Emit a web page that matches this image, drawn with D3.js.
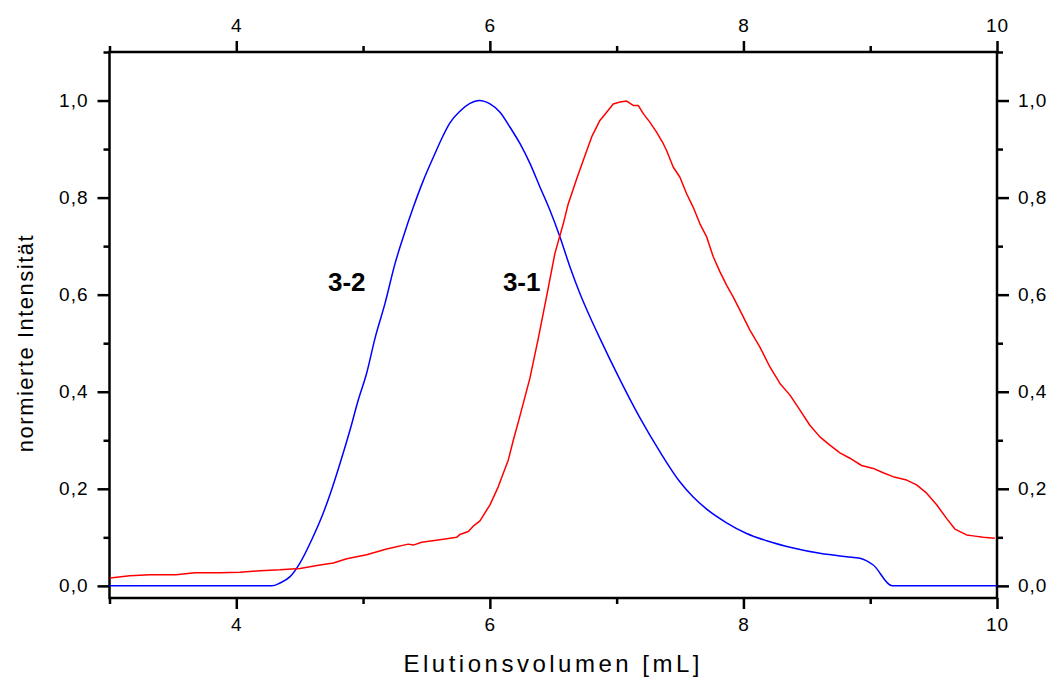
<!DOCTYPE html>
<html>
 <head>
  <meta charset="utf-8" />
  <title>Elutionsvolumen</title>
  <style>
   body, html {
    margin: 0;
    padding: 0;
    background-color: white;
    overflow: hidden;
   }
   svg {
    display: block;
   }
   .axis text {
    font-family: "Liberation Sans", Arial, sans-serif;
    font-size: 19px;
    letter-spacing: 1px;
    fill: #000;
   }
   .axis path, .axis line {
    stroke: #000;
    stroke-width: 2.5;
   }
   .title {
    font-family: "Liberation Sans", Arial, sans-serif;
    fill: #000;
   }
   .curve {
    fill: none;
    stroke-width: 1.5;
    stroke-linejoin: round;
   }
  </style>
  <script src="https://cdnjs.cloudflare.com/ajax/libs/d3/7.9.0/d3.min.js"></script>
 </head>
 <body>
  <svg></svg>
  <script>
   // values (x = Elutionsvolumen in mL, y = normierte Intensitaet)
   const blueX = [3.00, 4.28, 4.345, 4.424, 4.502, 4.595, 4.686, 4.752, 4.818, 4.897, 4.962, 5.028, 5.094, 5.173,
    5.252, 5.317, 5.396, 5.475, 5.554, 5.632, 5.685, 5.764, 5.843, 5.916, 6.001, 6.080, 6.159, 6.238, 6.317,
    6.395, 6.474, 6.553, 6.632, 6.711, 6.790, 6.868, 7.026, 7.184, 7.342, 7.500, 7.604, 7.710, 7.867, 8.025,
    8.183, 8.393, 8.603, 8.814, 8.919, 9.024, 9.173, 10.0];
   const blueY = [0, 0, 0.006, 0.019, 0.047, 0.095, 0.150, 0.198, 0.252, 0.321, 0.383, 0.438, 0.510, 0.582,
    0.664, 0.719, 0.780, 0.835, 0.883, 0.928, 0.954, 0.978, 0.994, 1.000, 0.993, 0.976, 0.945, 0.911, 0.870,
    0.822, 0.774, 0.719, 0.657, 0.602, 0.554, 0.510, 0.425, 0.346, 0.276, 0.214, 0.183, 0.158, 0.130, 0.108,
    0.093, 0.078, 0.067, 0.060, 0.057, 0.043, 0, 0];

   const redX = [3.004, 3.16, 3.319, 3.524, 3.674, 3.871, 4.029, 4.187, 4.345, 4.502, 4.660, 4.765, 4.871,
    5.028, 5.186, 5.356, 5.396, 5.462, 5.606, 5.738, 5.764, 5.830, 5.869, 5.922, 6.001, 6.066, 6.106, 6.145,
    6.185, 6.229, 6.316, 6.382, 6.448, 6.513, 6.579, 6.618, 6.685, 6.737, 6.803, 6.868, 6.921, 6.973, 7.026,
    7.079, 7.131, 7.170, 7.210, 7.263, 7.315, 7.368, 7.394, 7.446, 7.499, 7.552, 7.604, 7.657, 7.710, 7.762,
    7.815, 7.868, 7.920, 7.986, 8.051, 8.130, 8.209, 8.288, 8.367, 8.446, 8.524, 8.603, 8.682, 8.761, 8.840,
    8.932, 9.024, 9.102, 9.181, 9.287, 9.366, 9.445, 9.524, 9.602, 9.668, 9.760, 9.812, 9.891, 9.983];
   const redY = [0.016, 0.021, 0.023, 0.023, 0.027, 0.027, 0.028, 0.031, 0.033, 0.036, 0.043, 0.047, 0.056,
    0.064, 0.076, 0.086, 0.084, 0.090, 0.095, 0.100, 0.106, 0.112, 0.123, 0.134, 0.167, 0.204, 0.232, 0.259,
    0.300, 0.342, 0.428, 0.510, 0.597, 0.685, 0.746, 0.787, 0.839, 0.877, 0.925, 0.959, 0.976, 0.993, 0.997,
    0.999, 0.990, 0.990, 0.973, 0.955, 0.935, 0.911, 0.897, 0.863, 0.842, 0.808, 0.780, 0.746, 0.719, 0.678,
    0.647, 0.619, 0.595, 0.561, 0.527, 0.492, 0.451, 0.417, 0.393, 0.362, 0.331, 0.307, 0.290, 0.274, 0.263,
    0.248, 0.242, 0.233, 0.225, 0.218, 0.208, 0.191, 0.167, 0.139, 0.117, 0.105, 0.103, 0.100, 0.098];

   const xMajor = [4, 6, 8, 10];
   const xMinor = [3, 5, 7, 9];
   const yMajor = [0, 0.2, 0.4, 0.6, 0.8, 1.0];
   const yMinor = [0.1, 0.3, 0.5, 0.7, 0.9, 1.1];

   const labels = [
    {text: "3-2", x: 4.723, y: 0.608},
    {text: "3-1", x: 6.103, y: 0.608}
   ];

   const width = 1051;
   const height = 679;
   const margin = {top: 52, right: 54, bottom: 81, left: 109.5};

   const svg = d3.select("svg")
    .attr("width", width)
    .attr("height", height);

   const x = d3.scaleLinear().domain([3, 10]).range([margin.left, width - margin.right]);
   const y = d3.scaleLinear().domain([-0.025, 1.1]).range([height - margin.bottom, margin.top]);

   const fmt = d => d3.format(".1f")(d).replace(".", ",");

   function addAxis(gen, values, size, label, transform) {
    const g = svg.append("g")
     .attr("class", "axis")
     .attr("transform", transform)
     .call(gen.tickValues(values).tickSize(size).tickSizeOuter(0).tickPadding(label ? 9 : 0)
      .tickFormat(label ? label : ""));
    g.select(".domain").remove();
    return g;
   }

   const bottomT = `translate(0,${y.range()[0]})`;
   const topT = `translate(0,${y.range()[1]})`;
   const leftT = `translate(${x.range()[0]},0)`;
   const rightT = `translate(${x.range()[1]},0)`;

   addAxis(d3.axisBottom(x), xMajor, 11, d3.format("d"), bottomT);
   addAxis(d3.axisBottom(x), xMinor, 6, null, bottomT);
   addAxis(d3.axisTop(x), xMajor, 11, d3.format("d"), topT);
   addAxis(d3.axisTop(x), xMinor, 6, null, topT);
   addAxis(d3.axisLeft(y), yMajor, 12, fmt, leftT);
   addAxis(d3.axisLeft(y), yMinor, 6, null, leftT);
   addAxis(d3.axisRight(y), yMajor, 12, fmt, rightT);
   addAxis(d3.axisRight(y), yMinor, 6, null, rightT);

   svg.append("rect")
    .attr("x", x.range()[0])
    .attr("y", y.range()[1])
    .attr("width", x.range()[1] - x.range()[0])
    .attr("height", y.range()[0] - y.range()[1])
    .attr("fill", "none")
    .attr("stroke", "#000")
    .attr("stroke-width", 2.5);

   const smooth = d3.line()
    .x(d => x(d[0]))
    .y(d => y(d[1]))
    .curve(d3.curveMonotoneX);

   const line = d3.line()
    .x(d => x(d[0]))
    .y(d => y(d[1]));

   svg.append("path")
    .attr("class", "curve")
    .attr("stroke", "#0000ff")
    .attr("d", smooth(d3.zip(blueX, blueY)));

   svg.append("path")
    .attr("class", "curve")
    .attr("stroke", "#ff0000")
    .attr("d", line(d3.zip(redX, redY)));

   svg.selectAll(".peak")
    .data(labels)
    .enter().append("text")
    .attr("class", "peak title")
    .attr("x", d => x(d.x))
    .attr("y", d => y(d.y))
    .attr("font-size", "26px")
    .attr("font-weight", "bold")
    .text(d => d.text);

   svg.append("text")
    .attr("class", "title")
    .attr("x", (x.range()[0] + x.range()[1]) / 2)
    .attr("y", 672)
    .attr("text-anchor", "middle")
    .attr("font-size", "24px")
    .attr("letter-spacing", "3.5px")
    .text("Elutionsvolumen [mL]");

   svg.append("text")
    .attr("class", "title")
    .attr("transform", "translate(33,343) rotate(-90)")
    .attr("text-anchor", "middle")
    .attr("font-size", "22px")
    .attr("letter-spacing", "1.5px")
    .text("normierte Intensität");
  </script>
 </body>
</html>
